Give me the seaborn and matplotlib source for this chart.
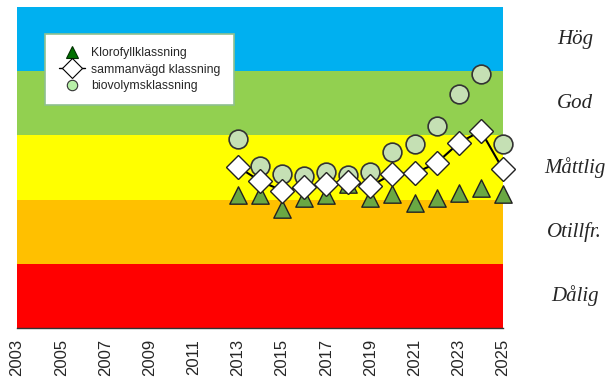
import numpy as np
import pandas as pd
import seaborn as sns
import matplotlib.pyplot as plt
from matplotlib.lines import Line2D

# data
years = [2013, 2014, 2015, 2016, 2017, 2018, 2019, 2020, 2021, 2022, 2023, 2024, 2025]
klorofyll = [2.07, 2.07, 1.86, 2.02, 2.07, 2.25, 2.02, 2.09, 1.95, 2.02, 2.10, 2.18, 2.08]
sammanvagd = [2.51, 2.29, 2.14, 2.20, 2.25, 2.28, 2.21, 2.40, 2.41, 2.57, 2.88, 3.07, 2.47]
biovolym = [2.94, 2.53, 2.40, 2.37, 2.43, 2.38, 2.43, 2.74, 2.87, 3.15, 3.64, 3.96, 2.87]

class_names = ["Dålig", "Otillfr.", "Måttlig", "God", "Hög"]
band_colors = ["#ff0000", "#ffc000", "#ffff00", "#92d050", "#00b0f0"]

df = pd.DataFrame({"year": years, "klorofyll": klorofyll,
                   "sammanvagd": sammanvagd, "biovolym": biovolym})

sns.set_style("white")
plt.rcParams["font.family"] = ["Liberation Sans", "DejaVu Sans"]

fig = plt.figure(figsize=(6.15, 3.85), dpi=100)
ax = fig.add_axes([0.0276, 0.148, 0.7902, 0.834])

for i, c in enumerate(band_colors):
    ax.axhspan(i, i + 1, color=c, lw=0, zorder=0)

sns.scatterplot(data=df, x="year", y="biovolym", marker="o", s=13.5**2,
                color="#c5e0b4", edgecolor="#333333", linewidth=1.2, zorder=3, ax=ax)
sns.scatterplot(data=df, x="year", y="klorofyll", marker="^", s=12.5**2,
                color="#6aa843", edgecolor="#222222", linewidth=1.0, zorder=4, ax=ax)
sns.lineplot(data=df, x="year", y="sammanvagd", color="black", lw=1.5,
             marker="D", markersize=12, markerfacecolor="white",
             markeredgecolor="#222222", markeredgewidth=1.0, zorder=5, ax=ax)

# let the 2025 markers spill over the right edge, as in the original
for art in ax.collections + ax.lines:
    art.set_clip_on(False)

ax.set_xlim(2003, 2025)
ax.set_ylim(0, 5)
ax.set_xticks(range(2003, 2026))
ax.set_xticklabels([str(y) if (y - 2003) % 2 == 0 else "" for y in range(2003, 2026)],
                   rotation=90, fontsize=12)
ax.set_yticks([])
ax.set_xlabel("")
ax.set_ylabel("")
ax.tick_params(axis="x", direction="out", length=5, width=1, color="#333333", pad=3)
for s in ["left", "right", "top"]:
    ax.spines[s].set_visible(False)
ax.spines["bottom"].set_color("#333333")
ax.spines["bottom"].set_linewidth(1)

for i, name in enumerate(class_names):
    ax.text(1.148, i + 0.5, name, transform=ax.get_yaxis_transform(),
            ha="center", va="center", fontsize=15, style="italic",
            family="Liberation Serif")

handles = [
    Line2D([], [], ls="none", marker="^", markersize=8.5, markerfacecolor="#007000",
           markeredgecolor="#003000", markeredgewidth=0.8),
    Line2D([], [], color="black", lw=1, marker="D", markersize=10,
           markerfacecolor="white", markeredgecolor="black", markeredgewidth=0.8),
    Line2D([], [], ls="none", marker="o", markersize=7.5, markerfacecolor="#b8f0a8",
           markeredgecolor="#333333", markeredgewidth=0.8),
]
labels = ["Klorofyllklassning", "sammanvägd klassning", "biovolymsklassning"]
leg = ax.legend(handles, labels, loc="upper left", bbox_to_anchor=(0.058, 0.916),
                borderaxespad=0, fontsize=8.8, frameon=True, fancybox=False,
                handlelength=2.2, borderpad=1.1, labelspacing=0.35, handletextpad=0.45)
leg.get_frame().set_edgecolor("#8fc08f")
leg.get_frame().set_linewidth(1.2)
leg.get_frame().set_facecolor("white")
leg.get_frame().set_alpha(1)
leg.set_zorder(10)

fig.savefig("out.png", dpi=100)
